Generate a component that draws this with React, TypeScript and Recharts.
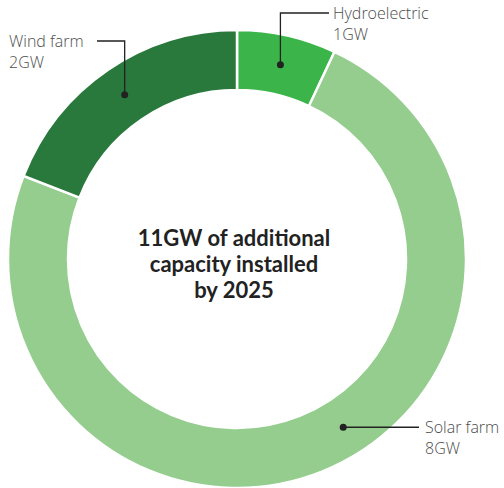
import React from 'react';
import { PieChart, Pie, Cell } from 'recharts';

// capacity by source, GW (slice sizes read from the ring)
const sources = ['Hydroelectric', 'Solar farm', 'Wind farm'];
const capacity = [0.77, 8.13, 2.1];
const capacityLabels = ['1GW', '8GW', '2GW'];
const colors = ['#3bb54a', '#94cd8e', '#2a793c'];

const centerLines = ['11GW of additional', 'capacity installed', 'by 2025'];

const data = sources.map((name, i) => ({ name, value: capacity[i], label: capacityLabels[i] }));

const RAD = Math.PI / 180;

// leader line layout for each slice label
const callouts = [
    { angleShift: 0, dir: 'up-right', elbowY: 13, endX: 329 },
    { angleShift: 10.5, dir: 'right', elbowY: 0, endX: 419 },
    { angleShift: 0, dir: 'up-left', elbowY: 41, endX: 97 },
];

const labelFont = { fontFamily: '"Open Sans", Lato, sans-serif', fontWeight: 300, fontSize: 16, fill: '#4d4d4d' };

function renderCallout(props: any) {
    const { cx, cy, midAngle, innerRadius, outerRadius, index, payload } = props;
    const c = callouts[index];
    const r = (innerRadius + outerRadius) / 2;
    const a = (midAngle + c.angleShift) * RAD;
    const x = cx + r * Math.cos(-a);
    const y = cy + r * Math.sin(-a);
    let points = '';
    let tx = 0;
    let ty = 0;
    if (c.dir === 'up-right') {
        points = `${x},${y} ${x},${c.elbowY} ${c.endX},${c.elbowY}`;
        tx = c.endX + 4; ty = c.elbowY;
    } else if (c.dir === 'up-left') {
        points = `${x},${y} ${x},${c.elbowY} ${c.endX},${c.elbowY}`;
        tx = 9; ty = c.elbowY;
    } else {
        points = `${x},${y} ${c.endX},${y}`;
        tx = c.endX + 6; ty = y;
    }
    return (
        <g key={`callout-${index}`}>
            <polyline points={points} fill="none" stroke="#222" strokeWidth={1.3} />
            <circle cx={x} cy={y} r={3.5} fill="#222" />
            <text x={tx} y={ty + 5.5} style={labelFont}>{payload.name}</text>
            <text x={tx} y={ty + 27} style={labelFont}>{payload.label}</text>
        </g>
    );
}

export default function App() {
    return (
        <div style={{ position: 'absolute', left: 0, top: 0, width: 504, height: 488, background: '#fff' }}>
            <PieChart width={504} height={488} margin={{ top: 0, right: 0, bottom: 0, left: 0 }}>
                <Pie
                    data={data}
                    dataKey="value"
                    cx={237}
                    cy={259}
                    innerRadius={169}
                    outerRadius={229}
                    startAngle={90}
                    endAngle={-270}
                    stroke="#fff"
                    strokeWidth={2.5}
                    label={renderCallout}
                    labelLine={false}
                    isAnimationActive={false}
                >
                    {data.map((d, i) => (
                        <Cell key={d.name} fill={colors[i]} />
                    ))}
                </Pie>
            </PieChart>
            <div
                style={{
                    position: 'absolute',
                    left: 124,
                    top: 225,
                    width: 220,
                    textAlign: 'center',
                    fontFamily: 'Lato, "Open Sans", sans-serif',
                    fontWeight: 700,
                    fontSize: 22,
                    lineHeight: '26px',
                    color: '#222',
                }}
            >
                {centerLines.map((l) => (
                    <div key={l}>{l}</div>
                ))}
            </div>
        </div>
    );
}
